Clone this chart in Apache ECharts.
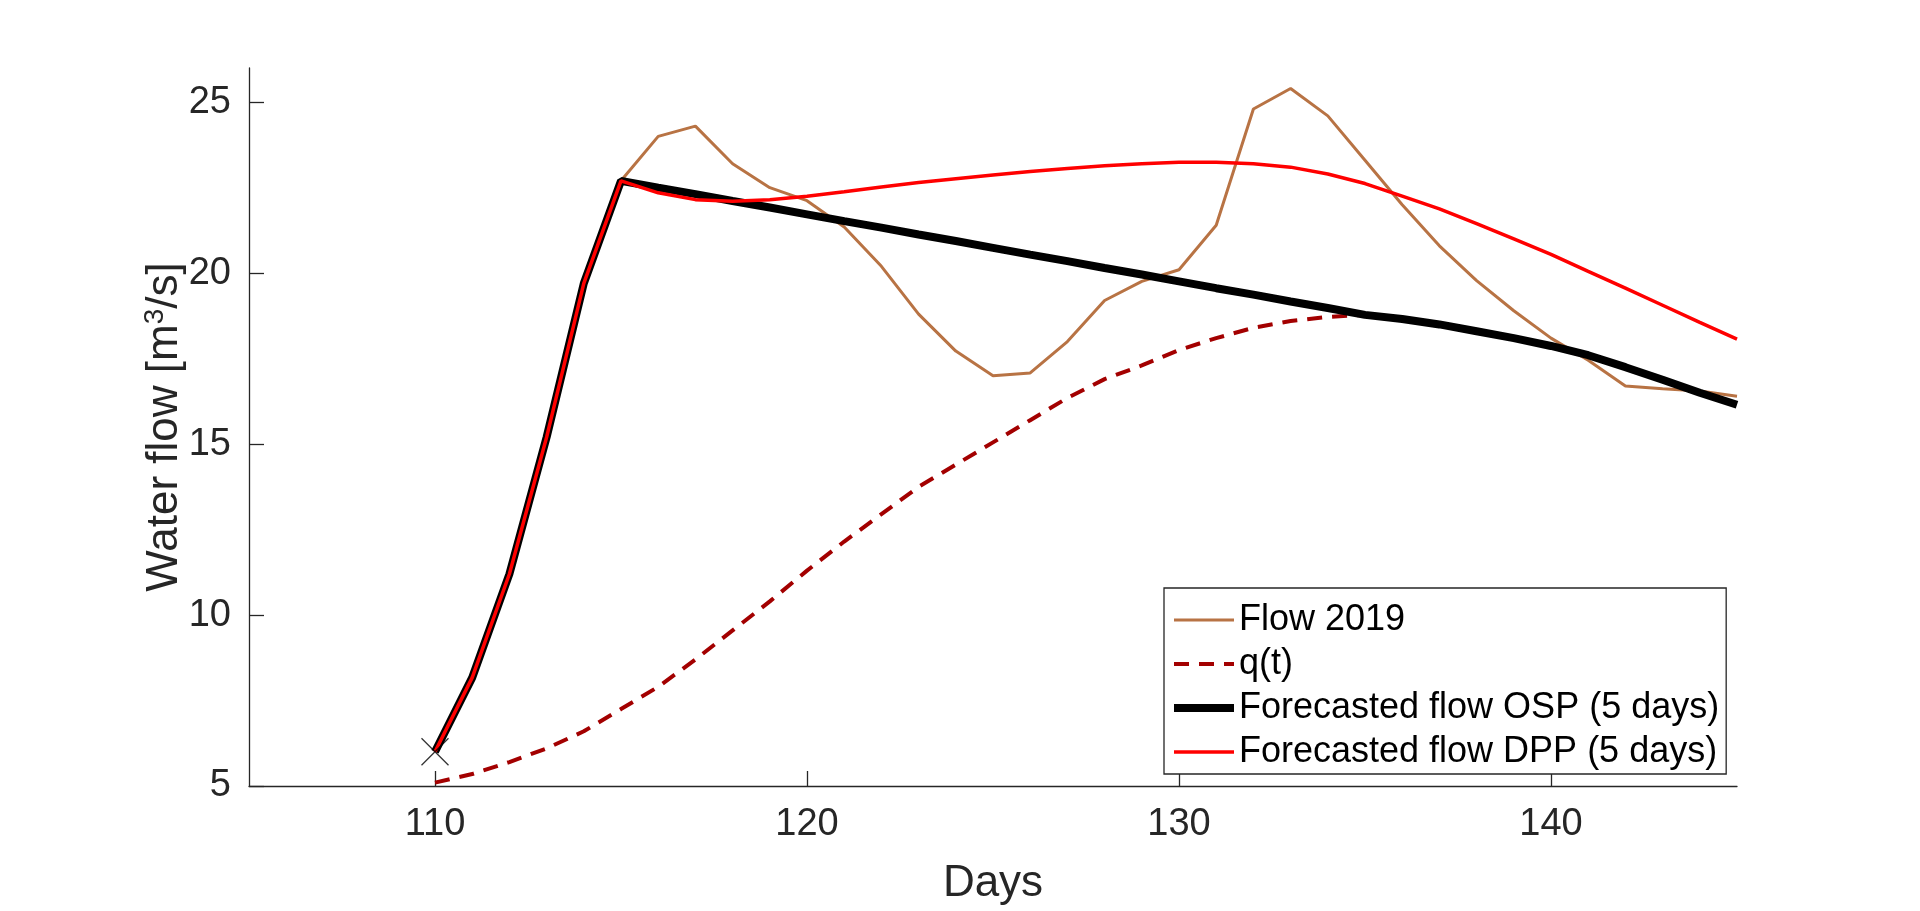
<!DOCTYPE html>
<html>
<head>
<meta charset="utf-8">
<script src="https://cdn.jsdelivr.net/npm/echarts@6/dist/echarts.min.js"></script>
<style>
html,body{margin:0;padding:0;background:#fff;}
#chart{width:1920px;height:911px;}
</style>
</head>
<body>
<div id="chart"></div>
<script>
const days = [110,111,112,113,114,115,116,117,118,119,120,121,122,123,124,125,126,127,128,129,130,131,132,133,134,135,136,137,138,139,140,141,142,143,144,145];
const flow2019 = [6.0,8.17,11.2,15.2,19.7,22.7,24.0,24.3,23.2,22.5,22.12,21.35,20.2,18.8,17.72,17.0,17.08,18.0,19.2,19.76,20.1,21.4,24.8,25.4,24.6,23.3,22.0,20.8,19.78,18.9,18.1,17.45,16.7,16.62,16.55,16.4];
const qDays = [110,111,112,113,114,115,116,117,118,119,120,121,122,123,124,125,126,127,128,129,130,131,132,133,134,135];
const qValues = [5.1,5.35,5.7,6.1,6.6,7.25,7.9,8.7,9.55,10.4,11.3,12.15,12.95,13.75,14.4,15.05,15.7,16.35,16.9,17.3,17.75,18.1,18.4,18.6,18.72,18.78];
const ospValues = [6.0,8.17,11.2,15.2,19.7,22.7,22.5,22.31,22.11,21.92,21.72,21.52,21.33,21.13,20.94,20.74,20.54,20.35,20.15,19.96,19.76,19.56,19.37,19.17,18.98,18.78,18.66,18.5,18.3,18.1,17.87,17.6,17.25,16.88,16.5,16.15];
const dppValues = [6.0,8.17,11.2,15.2,19.7,22.7,22.35,22.15,22.1,22.15,22.25,22.38,22.52,22.65,22.76,22.87,22.97,23.06,23.14,23.2,23.24,23.24,23.2,23.1,22.9,22.62,22.25,21.88,21.45,21.0,20.55,20.05,19.56,19.06,18.56,18.07];
const startPoint = [110, 6.0];
const xTicks = [110,120,130,140];
const yTicks = [5,10,15,20,25];
const legendNames = ['Flow 2019', 'q(t)', 'Forecasted flow OSP (5 days)', 'Forecasted flow DPP (5 days)'];

const pairs = (xs, ys) => xs.map((x, i) => [x, ys[i]]);
const FONT = '"Liberation Sans", Arial, Helvetica, sans-serif';
const AX = '#262626';
const styles = {
  'Flow 2019': {color: '#B87344', width: 3, type: 'solid'},
  'q(t)': {color: '#A30000', width: 4, type: [15, 10]},
  'Forecasted flow OSP (5 days)': {color: '#000000', width: 8, type: 'solid'},
  'Forecasted flow DPP (5 days)': {color: '#FF0000', width: 3.5, type: 'solid'}
};

const chart = echarts.init(document.getElementById('chart'), null, {renderer: 'canvas'});
chart.setOption({
  animation: false,
  backgroundColor: '#ffffff',
  grid: {left: 249, right: 183, top: 68, bottom: 120, containLabel: false},
  xAxis: {
    type: 'value', min: 105, max: 145,
    name: 'Days', nameLocation: 'middle', nameGap: 76,
    nameTextStyle: {fontFamily: FONT, fontSize: 44, color: AX},
    axisLine: {show: true, onZero: false, lineStyle: {color: AX, width: 1.3}},
    axisTick: {show: true, inside: true, length: 15, customValues: xTicks, lineStyle: {color: AX, width: 1.3}},
    axisLabel: {customValues: xTicks, fontFamily: FONT, fontSize: 38, color: AX, margin: 20},
    splitLine: {show: false}
  },
  yAxis: {
    type: 'value', min: 5, max: 26,
    name: 'Water flow [m{sup|3}/s]', nameLocation: 'middle', nameGap: 60,
    nameMoveOverlap: false,
    nameTextStyle: {fontFamily: FONT, fontSize: 44, color: AX,
      rich: {sup: {fontFamily: FONT, fontSize: 28, color: AX, verticalAlign: 'top', padding: [0, 0, 20, 0]}}},
    axisLine: {show: true, onZero: false, lineStyle: {color: AX, width: 1.3}},
    axisTick: {show: true, inside: true, length: 15, customValues: yTicks, lineStyle: {color: AX, width: 1.3}},
    axisLabel: {customValues: yTicks, fontFamily: FONT, fontSize: 38, color: AX, margin: 18},
    splitLine: {show: false}
  },
  legend: {
    data: legendNames.map(n => ({name: n, lineStyle: {color: styles[n].color, width: styles[n].width, type: styles[n].type}})),
    orient: 'vertical', left: 1164, top: 588,
    itemWidth: 60, itemHeight: 14, itemGap: 8,
    padding: [14, 7, 4, 6],
    itemStyle: {opacity: 0},
    backgroundColor: '#ffffff', borderColor: AX, borderWidth: 1.3, borderRadius: 0,
    textStyle: {fontFamily: FONT, fontSize: 36, color: '#000'}
  },
  series: legendNames.map((n, i) => ({
    name: n, type: 'line', symbol: 'none', z: 2 + i,
    data: i === 1 ? pairs(qDays, qValues) : pairs(days, [flow2019, null, ospValues, dppValues][i]),
    lineStyle: {color: styles[n].color, width: styles[n].width, type: styles[n].type},
    itemStyle: {color: styles[n].color}
  })).concat([
    {name: 'start', type: 'scatter', data: [startPoint], z: 6,
      symbol: 'path://M0,0L10,10M10,0L0,10', symbolSize: 27,
      itemStyle: {color: 'none', borderColor: '#000', borderWidth: 1.3}}
  ])
});
</script>
</body>
</html>
